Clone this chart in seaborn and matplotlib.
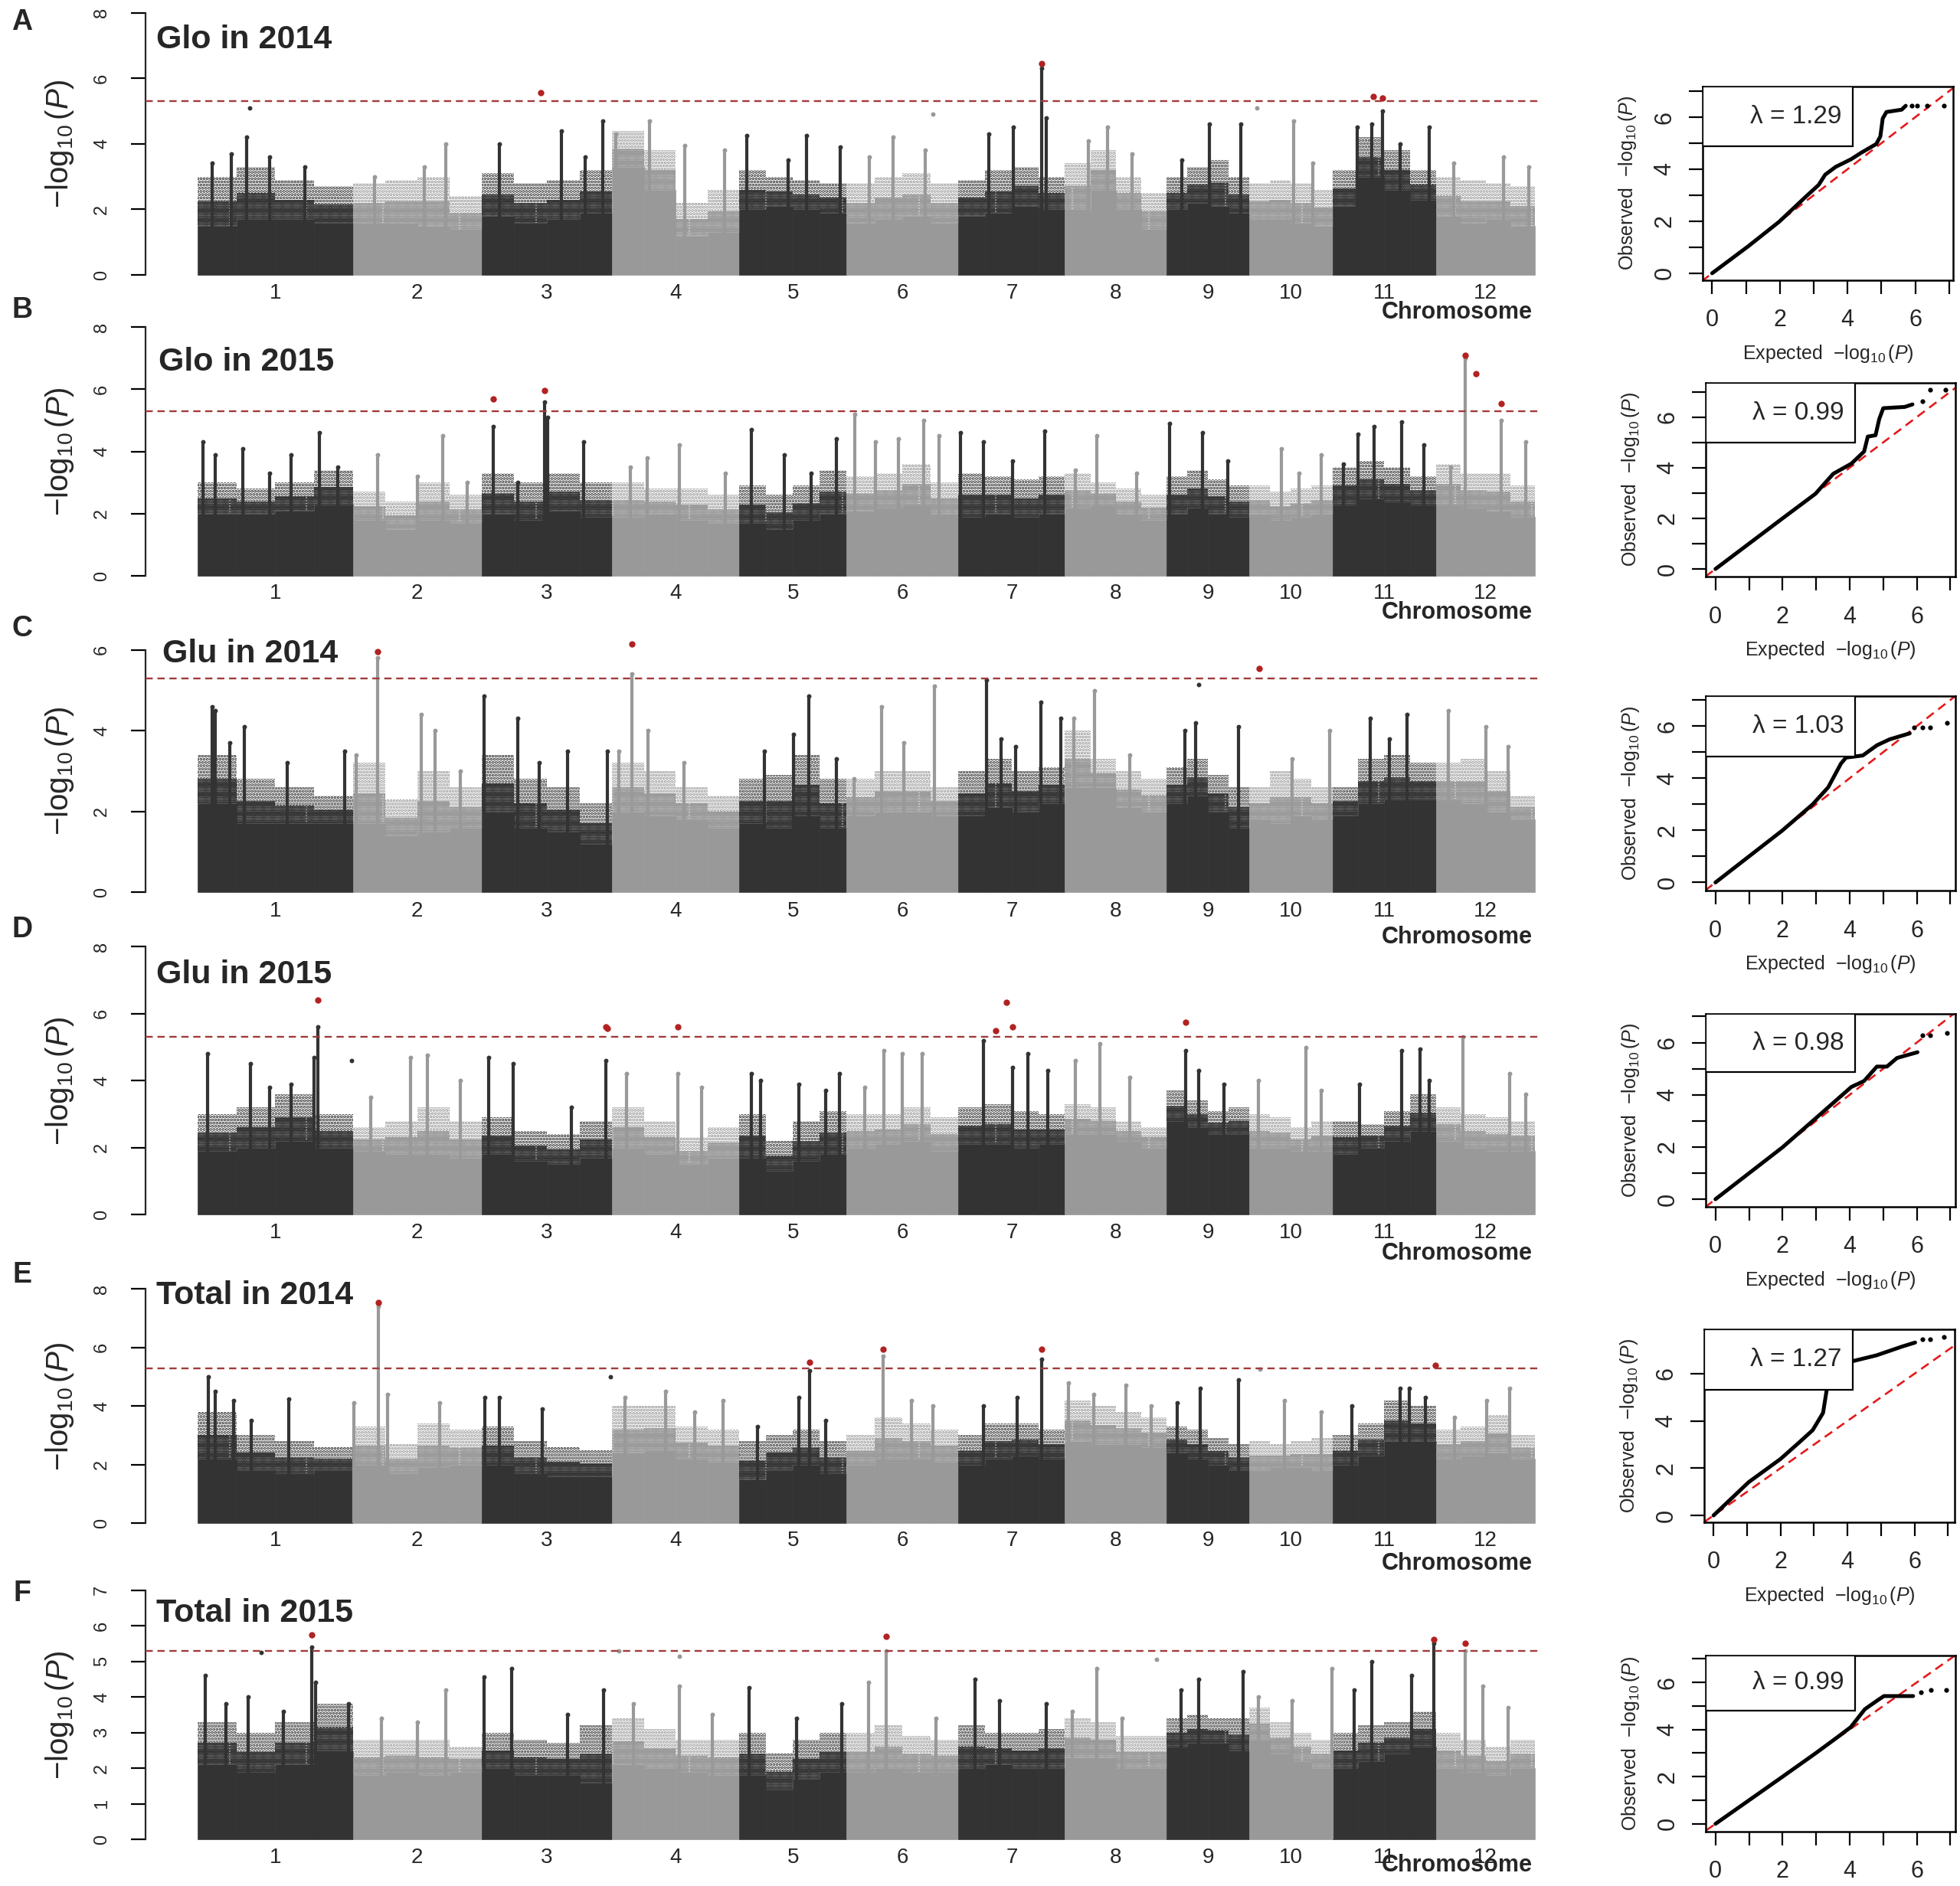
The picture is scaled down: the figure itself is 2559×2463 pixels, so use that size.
import matplotlib
matplotlib.use('Agg')  # headless

import matplotlib.pyplot as plt
from matplotlib.patches import Rectangle
import numpy as np
import pandas as pd
import seaborn as sns

W, H = 2559, 2463

# ---- shared genome info ----
CHROMS = ['1', '2', '3', '4', '5', '6', '7', '8', '9', '10', '11', '12']
CHR_LEN = [43.3, 35.9, 36.4, 35.5, 29.9, 31.2, 29.7, 28.4, 23.0, 23.2, 29.0, 27.5]
THRESH = 5.3
DARK, LIGHT, HIT = '#333333', '#999999', '#B22222'

# ---- A: Glo in 2014 ----
# dense body / loose cloud top, 4 bins per chromosome (-log10 P)
A_BODY = [[1.5, 1.7, 1.7, 1.6], [1.6, 1.6, 1.5, 1.4], [1.8, 1.6, 1.7, 1.9], [3.3, 2.6, 1.2, 1.3],
          [2.0, 2.1, 2.0, 1.9], [1.6, 1.7, 1.8, 1.6], [1.8, 1.9, 2.1, 2.0], [2.0, 2.6, 2.0, 1.4],
          [2.0, 2.2, 2.1, 1.9], [1.7, 1.7, 1.6, 1.5], [2.1, 3.0, 2.6, 2.3], [1.8, 1.6, 1.7, 1.5]]
A_CLOUD = [[3.0, 3.3, 2.9, 2.7], [2.8, 2.9, 3.0, 2.4], [3.1, 2.8, 2.9, 3.2], [4.4, 3.8, 2.2, 2.6],
           [3.2, 3.0, 2.9, 2.8], [2.8, 3.0, 3.1, 2.8], [2.9, 3.2, 3.3, 3.0], [3.4, 3.8, 3.0, 2.5],
           [3.0, 3.3, 3.5, 3.0], [2.8, 2.9, 2.8, 2.6], [3.2, 4.2, 3.8, 3.2], [3.0, 2.9, 2.8, 2.7]]
# (chromosome, position Mb, top of SNP column)
A_COLS = [(1, 13.6, 4.2), (1, 9.4, 3.7), (1, 20.0, 3.6), (1, 4.0, 3.4), (1, 30.0, 3.3),
          (2, 26.0, 4.0), (2, 6.0, 3.0), (2, 20.0, 3.3),
          (3, 4.9, 4.0), (3, 22.3, 4.4), (3, 33.8, 4.7), (3, 29.0, 3.6),
          (4, 1.0, 4.3), (4, 10.5, 4.7), (4, 20.2, 3.95), (4, 31.4, 3.8),
          (5, 2.0, 4.25), (5, 18.8, 4.25), (5, 28.2, 3.9), (5, 13.6, 3.5),
          (6, 12.9, 4.2), (6, 22.0, 3.8), (6, 6.3, 3.6),
          (7, 23.3, 6.3), (7, 8.4, 4.3), (7, 15.3, 4.5), (7, 24.4, 4.8),
          (8, 11.8, 4.5), (8, 6.6, 4.1), (8, 18.8, 3.7),
          (9, 11.8, 4.6), (9, 20.6, 4.6), (9, 4.2, 3.5),
          (10, 12.5, 4.7), (10, 17.8, 3.4),
          (11, 13.9, 5.0), (11, 7.0, 4.5), (11, 19.0, 4.0), (11, 27.0, 4.5), (11, 11.0, 4.6),
          (12, 4.9, 3.4), (12, 18.8, 3.6), (12, 25.8, 3.3)]
# isolated SNPs (chromosome, position Mb, -log10 P)
A_DOTS = [(1, 14.6, 5.1), (3, 16.4, 5.55), (6, 24.0, 4.9), (7, 23.3, 6.45), (10, 2.1, 5.1),
          (11, 11.5, 5.45), (11, 13.9, 5.4)]
A_QQ_EXP = [0, 1.08, 1.98, 2.74, 3.15, 3.34, 3.65, 4.1, 4.4, 4.85, 4.97, 5.04, 5.15, 5.6, 5.72]
A_QQ_OBS = [0, 1.05, 1.98, 2.91, 3.4, 3.79, 4.09, 4.38, 4.63, 4.97, 5.26, 5.95, 6.2, 6.29, 6.44]
A_TAIL_EXP = [5.9, 6.06, 6.36, 6.85]
A_TAIL_OBS = [6.44, 6.44, 6.44, 6.45]
A_LAMBDA = '1.29'

# ---- B: Glo in 2015 ----
B_BODY = [[2.0, 2.0, 2.1, 2.3], [1.8, 1.5, 1.8, 1.7], [2.0, 1.8, 2.1, 1.9], [1.9, 2.0, 1.8, 1.7],
          [1.7, 1.5, 1.8, 2.0], [2.1, 2.2, 2.3, 2.0], [1.9, 2.0, 1.9, 2.0], [2.2, 2.3, 2.0, 1.8],
          [2.0, 2.2, 2.0, 1.9], [2.0, 1.8, 1.9, 2.0], [2.3, 2.5, 2.4, 2.3], [2.3, 2.2, 2.1, 1.9]]
B_CLOUD = [[3.0, 2.8, 3.0, 3.4], [2.7, 2.4, 3.0, 2.6], [3.3, 3.0, 3.3, 3.0], [3.0, 2.8, 2.8, 2.6],
           [2.9, 2.6, 2.9, 3.4], [3.2, 3.3, 3.6, 3.0], [3.3, 3.2, 3.1, 3.2], [3.3, 3.0, 2.8, 2.6],
           [3.2, 3.4, 3.1, 2.9], [2.9, 2.7, 2.8, 2.9], [3.5, 3.7, 3.5, 3.2], [3.6, 3.3, 3.3, 2.9]]
B_COLS = [(1, 1.4, 4.3), (1, 5.0, 3.9), (1, 12.5, 4.1), (1, 26.0, 3.9), (1, 34.0, 4.6), (1, 39.0, 3.5), (1, 20.0, 3.3),
          (2, 7.0, 3.9), (2, 25.0, 4.5), (2, 18.0, 3.2), (2, 32.0, 3.0),
          (3, 3.3, 4.8), (3, 17.5, 5.6), (3, 18.5, 5.1), (3, 28.5, 4.3), (3, 10.0, 3.0),
          (4, 9.7, 3.8), (4, 18.8, 4.2), (4, 31.5, 3.3), (4, 5.0, 3.5),
          (5, 3.3, 4.7), (5, 12.5, 3.9), (5, 27.0, 4.4), (5, 20.0, 3.3),
          (6, 2.2, 5.2), (6, 14.5, 4.4), (6, 21.6, 5.0), (6, 25.7, 4.5), (6, 8.0, 4.3),
          (7, 0.5, 4.6), (7, 7.0, 4.3), (7, 24.0, 4.65), (7, 15.0, 3.7),
          (8, 9.0, 4.5), (8, 3.0, 3.4), (8, 20.0, 3.3),
          (9, 0.8, 4.9), (9, 10.0, 4.6), (9, 17.0, 3.7),
          (10, 8.9, 4.1), (10, 20.0, 3.9), (10, 14.0, 3.3),
          (11, 7.2, 4.55), (11, 11.6, 4.8), (11, 19.4, 4.95), (11, 25.5, 4.2), (11, 3.0, 3.6),
          (12, 8.0, 7.0), (12, 18.0, 5.0), (12, 25.0, 4.3), (12, 4.0, 3.5)]
B_DOTS = [(3, 3.3, 5.7), (3, 17.5, 5.95), (12, 8.0, 7.1), (12, 11.0, 6.5), (12, 18.0, 5.55)]
B_QQ_EXP = [0, 2, 2.98, 3.51, 4.05, 4.43, 4.54, 4.77, 4.88, 5.0, 5.64, 5.87]
B_QQ_OBS = [0, 2.0, 2.97, 3.76, 4.16, 4.64, 5.23, 5.28, 5.92, 6.35, 6.4, 6.5]
B_TAIL_EXP = [6.17, 6.4, 6.86]
B_TAIL_OBS = [6.63, 7.08, 7.08]
B_LAMBDA = '0.99'

# ---- C: Glu in 2014 ----
C_BODY = [[2.2, 1.7, 1.7, 1.7], [1.7, 1.4, 1.5, 1.6], [2.0, 1.6, 1.5, 1.2], [2.0, 1.9, 1.8, 1.6],
          [1.7, 1.6, 1.9, 1.6], [1.9, 2.0, 2.0, 1.9], [1.9, 2.1, 2.0, 2.2], [2.6, 2.6, 2.1, 2.0],
          [2.2, 2.4, 2.0, 1.6], [1.8, 1.7, 1.9, 1.8], [1.9, 2.2, 2.3, 2.3], [2.3, 2.2, 2.0, 1.8]]
C_CLOUD = [[3.4, 2.8, 2.6, 2.4], [3.2, 2.3, 3.0, 2.6], [3.4, 2.8, 2.6, 2.2], [3.2, 3.0, 2.6, 2.4],
           [2.8, 2.9, 3.4, 2.8], [2.8, 3.0, 3.0, 2.6], [3.0, 3.3, 3.0, 3.1], [4.0, 3.3, 3.0, 2.8],
           [3.1, 3.3, 2.9, 2.6], [2.6, 3.0, 2.8, 2.6], [2.6, 3.3, 3.4, 3.2], [3.2, 3.3, 3.0, 2.4]]
C_COLS = [(1, 4.0, 4.6), (1, 5.0, 4.5), (1, 13.0, 4.1), (1, 9.0, 3.7), (1, 25.0, 3.2), (1, 41.0, 3.5),
          (2, 7.0, 5.8), (2, 19.0, 4.4), (2, 23.0, 4.0), (2, 1.0, 3.4), (2, 30.0, 3.0),
          (3, 0.8, 4.85), (3, 10.0, 4.3), (3, 24.0, 3.5), (3, 16.0, 3.2), (3, 35.0, 3.5),
          (4, 5.5, 5.4), (4, 10.0, 4.0), (4, 2.0, 3.5), (4, 20.0, 3.2),
          (5, 19.4, 4.85), (5, 15.0, 3.9), (5, 7.0, 3.5), (5, 27.0, 3.3),
          (6, 9.7, 4.6), (6, 24.6, 5.1), (6, 16.0, 3.7), (6, 2.0, 2.8),
          (7, 7.8, 5.25), (7, 23.0, 4.7), (7, 28.5, 4.3), (7, 12.0, 3.8), (7, 16.0, 3.6),
          (8, 8.3, 5.0), (8, 2.5, 4.3), (8, 18.0, 3.4),
          (9, 8.0, 4.2), (9, 5.0, 4.0), (9, 20.0, 4.1),
          (10, 22.5, 4.0), (10, 12.0, 3.3),
          (11, 10.5, 4.3), (11, 20.8, 4.4), (11, 16.0, 3.8),
          (12, 3.3, 4.5), (12, 13.8, 4.1), (12, 20.0, 3.6)]
C_DOTS = [(2, 7.0, 5.95), (4, 5.5, 6.15), (10, 2.8, 5.55), (9, 9.0, 5.15)]
C_QQ_EXP = [0, 1.99, 2.9, 3.36, 3.51, 3.74, 3.89, 4.39, 4.81, 5.19, 5.79]
C_QQ_OBS = [0, 1.99, 3.0, 3.65, 4.01, 4.56, 4.79, 4.87, 5.26, 5.49, 5.72]
C_TAIL_EXP = [5.91, 6.17, 6.4, 6.9]
C_TAIL_OBS = [5.96, 5.96, 5.96, 6.11]
C_LAMBDA = '1.03'

# ---- D: Glu in 2015 ----
D_BODY = [[1.9, 2.0, 2.2, 2.0], [1.9, 1.8, 1.8, 1.7], [1.8, 1.6, 1.5, 1.7], [2.0, 1.8, 1.5, 1.7],
          [1.7, 1.3, 1.6, 1.8], [2.0, 2.1, 2.2, 1.9], [2.1, 2.1, 2.0, 2.1], [2.4, 2.4, 2.2, 2.0],
          [2.8, 2.6, 2.4, 2.4], [2.0, 2.0, 1.9, 1.9], [1.8, 2.0, 2.2, 2.5], [2.2, 2.0, 1.9, 1.9]]
D_CLOUD = [[3.0, 3.2, 3.6, 3.0], [2.6, 2.8, 3.2, 2.8], [2.9, 2.5, 2.4, 2.8], [3.2, 2.8, 2.3, 2.6],
           [3.0, 2.2, 2.8, 3.1], [3.0, 3.0, 3.2, 2.9], [3.2, 3.3, 3.1, 3.0], [3.3, 3.2, 2.8, 2.6],
           [3.7, 3.4, 3.1, 3.2], [3.0, 2.9, 2.6, 2.8], [2.8, 2.7, 3.1, 3.6], [3.2, 3.0, 2.9, 2.8]]
D_COLS = [(1, 2.8, 4.8), (1, 14.7, 4.5), (1, 26.0, 3.9), (1, 33.5, 5.6), (1, 32.5, 4.7), (1, 20.0, 3.8),
          (2, 16.0, 4.7), (2, 20.8, 4.75), (2, 30.0, 4.0), (2, 5.0, 3.5),
          (3, 2.0, 4.7), (3, 8.9, 4.5), (3, 34.6, 4.6), (3, 25.0, 3.2),
          (4, 4.0, 4.2), (4, 18.3, 4.2), (4, 25.0, 3.8),
          (5, 3.3, 4.2), (5, 6.0, 4.0), (5, 16.6, 3.9), (5, 28.0, 4.2), (5, 24.0, 3.7),
          (6, 10.5, 4.9), (6, 15.5, 4.8), (6, 21.0, 4.8), (6, 5.0, 3.8),
          (7, 6.9, 5.2), (7, 19.4, 4.8), (7, 25.0, 4.3), (7, 15.0, 4.4),
          (8, 9.7, 5.1), (8, 3.0, 4.6), (8, 18.0, 4.1),
          (9, 5.3, 4.9), (9, 9.0, 4.3), (9, 16.0, 3.9),
          (10, 15.8, 5.0), (10, 2.5, 4.0), (10, 20.0, 3.7),
          (11, 7.5, 3.9), (11, 19.4, 4.9), (11, 24.4, 4.95), (11, 27.0, 4.0),
          (12, 7.5, 5.3), (12, 20.5, 4.2), (12, 25.0, 3.6)]
D_DOTS = [(1, 33.5, 6.4), (1, 43.0, 4.6), (3, 34.6, 5.6), (3, 35.0, 5.55), (4, 18.3, 5.6),
          (7, 10.5, 5.5), (7, 13.3, 6.35), (7, 15.2, 5.6), (9, 5.3, 5.75)]
D_QQ_EXP = [0, 2, 2.98, 4.05, 4.43, 4.81, 5.11, 5.41, 6.02]
D_QQ_OBS = [0, 1.99, 3.09, 4.3, 4.53, 5.08, 5.08, 5.41, 5.63]
D_TAIL_EXP = [6.17, 6.4, 6.9]
D_TAIL_OBS = [6.29, 6.29, 6.36]
D_LAMBDA = '0.98'

# ---- E: Total in 2014 ----
E_BODY = [[2.2, 1.8, 1.7, 1.8], [2.0, 1.7, 1.9, 2.0], [2.0, 1.7, 1.6, 1.6], [2.4, 2.5, 2.2, 2.1],
          [1.5, 1.8, 2.0, 1.7], [2.0, 2.2, 2.2, 2.1], [2.0, 2.2, 2.3, 2.2], [2.8, 2.7, 2.7, 2.6],
          [2.4, 2.2, 2.0, 1.8], [1.8, 1.9, 1.9, 1.8], [2.0, 2.3, 2.8, 2.8], [2.2, 2.3, 2.4, 2.2]]
E_CLOUD = [[3.8, 3.0, 2.8, 2.6], [3.3, 2.7, 3.4, 3.2], [3.3, 2.8, 2.6, 2.5], [4.0, 4.0, 3.3, 3.2],
           [2.8, 3.0, 3.2, 2.8], [3.0, 3.6, 3.4, 3.2], [3.0, 3.4, 3.4, 3.2], [4.2, 4.0, 3.8, 3.6],
           [3.3, 3.2, 2.9, 2.7], [2.8, 2.7, 2.8, 2.9], [3.0, 3.4, 4.2, 4.0], [3.2, 3.3, 3.7, 3.0]]
E_COLS = [(1, 3.0, 5.0), (1, 5.0, 4.5), (1, 10.0, 4.2), (1, 25.5, 4.25), (1, 15.0, 3.5),
          (2, 7.2, 7.4), (2, 9.7, 4.4), (2, 0.3, 4.1), (2, 24.3, 4.1),
          (3, 1.0, 4.3), (3, 5.0, 4.3), (3, 17.0, 3.9),
          (4, 3.5, 4.3), (4, 15.0, 4.5), (4, 31.0, 4.2), (4, 23.0, 3.8),
          (5, 19.6, 5.2), (5, 16.6, 4.3), (5, 24.0, 3.5), (5, 5.0, 3.3),
          (6, 10.2, 5.7), (6, 18.0, 4.2), (6, 24.0, 4.0),
          (7, 23.2, 5.6), (7, 16.3, 4.3), (7, 7.0, 4.0),
          (8, 1.0, 4.8), (8, 17.0, 4.7), (8, 8.0, 4.4), (8, 24.0, 4.0),
          (9, 9.4, 4.6), (9, 20.0, 4.9), (9, 3.0, 4.1),
          (10, 9.8, 4.2), (10, 20.0, 3.8),
          (11, 5.5, 4.0), (11, 19.0, 4.6), (11, 21.5, 4.6), (11, 26.0, 4.3),
          (12, 20.5, 4.6), (12, 14.0, 4.2), (12, 5.0, 3.6)]
E_DOTS = [(2, 7.2, 7.55), (3, 36.0, 5.0), (5, 19.6, 5.5), (6, 10.2, 5.95), (7, 23.2, 5.95),
          (10, 3.0, 5.25), (11, 28.8, 5.4)]
E_QQ_EXP = [0, 1.05, 2, 2.58, 2.96, 3.27, 3.38, 3.45, 4.18, 4.87, 5.63, 6.02]
E_QQ_OBS = [0, 1.41, 2.39, 3.12, 3.61, 4.34, 5.32, 6.4, 6.54, 6.78, 7.15, 7.32]
E_TAIL_EXP = [6.24, 6.47, 6.89]
E_TAIL_OBS = [7.46, 7.46, 7.56]
E_LAMBDA = '1.27'

# ---- F: Total in 2015 ----
F_BODY = [[2.1, 1.9, 2.1, 2.5], [1.8, 1.9, 1.8, 1.9], [2.0, 1.8, 1.8, 1.6], [2.1, 2.0, 1.9, 1.8],
          [1.8, 1.4, 1.7, 1.9], [1.9, 2.0, 1.9, 1.9], [2.0, 2.1, 2.0, 2.0], [2.3, 2.3, 2.0, 2.0],
          [2.6, 2.7, 2.7, 2.5], [2.8, 2.4, 2.2, 2.0], [2.0, 2.2, 2.4, 2.6], [2.0, 1.9, 1.8, 2.0]]
F_CLOUD = [[3.3, 3.0, 3.3, 3.8], [2.8, 2.8, 2.8, 2.6], [3.0, 2.8, 2.7, 3.2], [3.4, 3.1, 2.8, 2.8],
           [3.0, 2.4, 2.8, 3.0], [3.0, 3.2, 2.9, 2.8], [3.2, 3.0, 3.0, 3.1], [3.4, 3.3, 2.9, 2.9],
           [3.4, 3.5, 3.4, 3.4], [3.7, 3.3, 3.0, 2.8], [3.0, 3.2, 3.3, 3.6], [3.0, 2.8, 2.6, 2.8]]
F_COLS = [(1, 2.2, 4.6), (1, 8.0, 3.8), (1, 14.0, 4.0), (1, 31.8, 5.4), (1, 42.0, 3.8), (1, 24.0, 3.6), (1, 33.0, 4.4),
          (2, 26.0, 4.2), (2, 8.0, 3.4), (2, 18.0, 3.3),
          (3, 0.8, 4.55), (3, 8.3, 4.8), (3, 34.0, 4.2), (3, 24.0, 3.5),
          (4, 18.8, 4.3), (4, 6.0, 3.8), (4, 28.0, 3.5),
          (5, 2.8, 4.25), (5, 28.5, 3.8), (5, 16.0, 3.4),
          (6, 11.0, 5.3), (6, 6.2, 4.4), (6, 25.0, 3.4),
          (7, 4.7, 4.5), (7, 11.5, 3.9), (7, 24.5, 3.8),
          (8, 9.0, 4.8), (8, 2.0, 3.6), (8, 16.0, 3.4),
          (9, 8.9, 4.5), (9, 21.3, 4.7), (9, 4.0, 4.2),
          (10, 23.0, 4.8), (10, 2.5, 4.0), (10, 12.0, 3.9),
          (11, 11.0, 5.0), (11, 22.0, 4.6), (11, 28.3, 5.5), (11, 6.0, 4.2),
          (12, 8.0, 5.3), (12, 13.0, 4.3), (12, 20.0, 3.7)]
F_DOTS = [(1, 17.7, 5.25), (1, 31.8, 5.75), (4, 2.0, 5.3), (4, 18.8, 5.15), (6, 11.0, 5.7),
          (8, 25.5, 5.05), (11, 28.3, 5.62), (12, 8.0, 5.5)]
F_QQ_EXP = [0, 2, 3.0, 3.61, 4.03, 4.45, 4.83, 5.02, 5.89]
F_QQ_OBS = [0, 2, 3.01, 3.65, 4.1, 4.86, 5.24, 5.42, 5.42]
F_TAIL_EXP = [6.12, 6.43, 6.88]
F_TAIL_OBS = [5.57, 5.67, 5.67]
F_LAMBDA = '0.99'

TITLES = ['Glo in 2014', 'Glo in 2015', 'Glu in 2014', 'Glu in 2015', 'Total in 2014', 'Total in 2015']
LETTERS = ['A', 'B', 'C', 'D', 'E', 'F']

# ---- layout (pixels) ----
MAN_LEFT, MAN_RIGHT = 190, 2010
DATA_L, DATA_R = 258, 2004
LAYOUT = [
    dict(zero=359, unit=42.8, top=8.0, ticks=[0, 2, 4, 6, 8], title=(204, 52), letter=29, chrom=408,
         qq=(2223, 113, 2550, 366), qxl=(-0.28, 7.12), qyl=(-0.27, 7.18), qyt=range(8), box=4.87),
    dict(zero=752, unit=40.6, top=8.0, ticks=[0, 2, 4, 6, 8], title=(207, 473), letter=405, chrom=800,
         qq=(2227, 500, 2553, 753), qxl=(-0.29, 7.15), qyl=(-0.30, 7.35), qyt=range(8), box=4.99),
    dict(zero=1165, unit=52.7, top=6.3, ticks=[0, 2, 4, 6], title=(212, 854), letter=821, chrom=1224,
         qq=(2227, 909, 2553, 1163), qxl=(-0.29, 7.15), qyl=(-0.31, 7.15), qyt=range(8), box=4.82),
    dict(zero=1586, unit=43.7, top=8.0, ticks=[0, 2, 4, 6, 8], title=(204, 1273), letter=1214, chrom=1637,
         qq=(2227, 1324, 2553, 1576), qxl=(-0.29, 7.15), qyl=(-0.29, 7.10), qyt=range(8), box=4.86),
    dict(zero=1989, unit=38.2, top=8.0, ticks=[0, 2, 4, 6, 8], title=(204, 1692), letter=1665, chrom=2042,
         qq=(2225, 1736, 2552, 1988), qxl=(-0.28, 7.20), qyl=(-0.29, 7.88), qyt=[0, 2, 4, 6], box=5.32),
    dict(zero=2402, unit=46.5, top=7.0, ticks=[0, 1, 2, 3, 4, 5, 6, 7], title=(204, 2107), letter=2081, chrom=2436,
         qq=(2227, 2162, 2553, 2392), qxl=(-0.29, 7.15), qyl=(-0.33, 7.14), qyt=range(8), box=4.81),
]

sns.set_theme(style='ticks')
plt.rcParams['font.family'] = ['Liberation Sans', 'DejaVu Sans']
plt.rcParams.update({
    'mathtext.fontset': 'custom',
    'mathtext.rm': 'Liberation Sans',
    'mathtext.it': 'Liberation Sans:italic',
    'mathtext.bf': 'Liberation Sans:bold',
    'hatch.linewidth': 2.0,
    'axes.linewidth': 1.6,
})

offsets = np.concatenate([[0.0], np.cumsum(CHR_LEN)[:-1]])
total = float(np.sum(CHR_LEN))
mb_px = (DATA_R - DATA_L) / total
XLIM = (-(DATA_L - MAN_LEFT) / mb_px, total + (MAN_RIGHT - DATA_R) / mb_px)
mids = offsets + np.array(CHR_LEN) / 2


def px_axes(fig, x0, y0, x1, y1):
    return fig.add_axes([x0 / W, 1 - y1 / H, (x1 - x0) / W, (y1 - y0) / H])


def chr_color(c):
    return DARK if c % 2 == 1 else LIGHT


def snp_frame(rows):
    df = pd.DataFrame(rows, columns=['chrom', 'pos', 'h'])
    df['gpos'] = offsets[df['chrom'].values - 1] + df['pos']
    df['color'] = df['chrom'].map(chr_color)
    return df


def draw_manhattan(fig, lay, body, cloud, cols, dots, title, letter):
    ymin = -0.15
    ax = px_axes(fig, MAN_LEFT, lay['zero'] - lay['top'] * lay['unit'],
                 MAN_RIGHT, lay['zero'] - ymin * lay['unit'])
    ax.set_xlim(*XLIM)
    ax.set_ylim(ymin, lay['top'])

    # solid core of the SNP cloud, then a dotted fringe that thins out upwards
    for i, length in enumerate(CHR_LEN):
        c = chr_color(i + 1)
        q = length / 4
        for j in range(4):
            x0 = offsets[i] + j * q
            b, t = body[i][j], cloud[i][j]
            ax.bar(x0, b, width=q, align='edge', color=c, edgecolor=c, linewidth=0.5, zorder=1)
            mid = b + (t - b) * 0.5
            ax.bar(x0, mid - b, bottom=b, width=q, align='edge', facecolor='none',
                   edgecolor=c, linewidth=0, hatch='.........', zorder=1)
            ax.bar(x0, t - mid, bottom=mid, width=q, align='edge', facecolor='none',
                   edgecolor=c, linewidth=0, hatch='....', zorder=1)

    cdf = snp_frame(cols)
    ax.vlines(cdf['gpos'], 0, cdf['h'], colors=cdf['color'], linewidth=3.0, zorder=2)
    for color, grp in cdf.groupby('color'):
        sns.scatterplot(data=grp, x='gpos', y='h', color=color, s=18, linewidth=0, ax=ax, zorder=3)

    ddf = snp_frame(dots)
    ddf.loc[ddf['h'] > THRESH, 'color'] = HIT
    for color, grp in ddf.groupby('color'):
        size = 36 if color == HIT else 18
        sns.scatterplot(data=grp, x='gpos', y='h', color=color, s=size, linewidth=0, ax=ax, zorder=4)

    ax.axhline(THRESH, color='#A13B3B', linestyle=(0, (4, 2.6)), linewidth=1.7, zorder=5)

    sns.despine(ax=ax, bottom=True)
    ax.spines['left'].set_bounds(0, lay['ticks'][-1])
    ax.spines['left'].set_linewidth(1.6)
    ax.set_yticks(lay['ticks'])
    ax.set_yticklabels([str(t) for t in lay['ticks']])
    ax.tick_params(axis='y', length=14, width=1.6, labelsize=17, pad=19, color='black')
    plt.setp(ax.get_yticklabels(), rotation=90, va='center', ha='right')
    ax.set_xticks(mids)
    ax.set_xticklabels(CHROMS)
    ax.tick_params(axis='x', length=0, labelsize=20, pad=3)
    ax.set_xlabel('')
    ax.set_ylabel('')

    fig.text(lay['title'][0] / W, 1 - lay['title'][1] / H, title, fontsize=31,
             fontweight='bold', ha='left', va='center')
    fig.text(29 / W, 1 - lay['letter'] / H, letter, fontsize=27, fontweight='bold',
             ha='center', va='center')
    fig.text(2001 / W, 1 - lay['chrom'] / H, 'Chromosome', fontsize=22, fontweight='bold',
             ha='right', va='center')
    centre = lay['zero'] - lay['ticks'][-1] * lay['unit'] / 2
    fig.text(78 / W, 1 - centre / H, r'$-\log_{10}(P)$', fontsize=29, rotation=90,
             ha='center', va='center')


def draw_qq(fig, lay, exp, obs, tail_x, tail_y, lam):
    x0, y0, x1, y1 = lay['qq']
    ax = px_axes(fig, x0, y0, x1, y1)
    xl, yl = lay['qxl'], lay['qyl']
    ax.set_xlim(*xl)
    ax.set_ylim(*yl)
    ax.plot([-1, 9], [-1, 9], color='#E41A1C', linestyle=(0, (4.5, 2.8)), linewidth=1.9, zorder=2)
    sns.lineplot(x=exp, y=obs, color='black', linewidth=3.6, sort=False, estimator=None,
                 ax=ax, zorder=3)
    sns.scatterplot(x=tail_x, y=tail_y, color='black', s=20, linewidth=0, ax=ax, zorder=3)
    box_r = 4.16
    ax.add_patch(Rectangle((xl[0], lay['box']), box_r - xl[0], yl[1] - lay['box'],
                           facecolor='white', edgecolor='black', linewidth=1.6, zorder=4))
    ax.text(box_r - 0.33, (lay['box'] + yl[1]) / 2, f'λ = {lam}', fontsize=24,
            ha='right', va='center', zorder=5)

    ax.set_xticks(range(8))
    ax.set_xticklabels(['0', '', '2', '', '4', '', '6', ''])
    yt = list(lay['qyt'])
    ax.set_yticks(yt)
    ax.set_yticklabels([str(v) if v % 2 == 0 else '' for v in yt])
    ax.tick_params(axis='both', direction='out', length=13, width=1.6, labelsize=22, color='black')
    ax.tick_params(axis='x', pad=14)
    ax.tick_params(axis='y', pad=12)
    plt.setp(ax.get_yticklabels(), rotation=90, va='center', ha='right')
    for sp in ax.spines.values():
        sp.set_visible(True)
        sp.set_linewidth(1.8)
        sp.set_color('black')
    ax.set_xlabel('')
    ax.set_ylabel('')

    fig.text(((x0 + x1) / 2) / W, 1 - (y1 + 96) / H, r'Expected  $-\log_{10}(P)$',
             fontsize=18, ha='center', va='center')
    fig.text((x0 - 98) / W, 1 - ((y0 + y1) / 2) / H, r'Observed  $-\log_{10}(P)$',
             fontsize=18, rotation=90, ha='center', va='center')


fig = plt.figure(figsize=(W / 100, H / 100), dpi=100)
fig.patch.set_facecolor('white')

panels = [
    (A_BODY, A_CLOUD, A_COLS, A_DOTS, A_QQ_EXP, A_QQ_OBS, A_TAIL_EXP, A_TAIL_OBS, A_LAMBDA),
    (B_BODY, B_CLOUD, B_COLS, B_DOTS, B_QQ_EXP, B_QQ_OBS, B_TAIL_EXP, B_TAIL_OBS, B_LAMBDA),
    (C_BODY, C_CLOUD, C_COLS, C_DOTS, C_QQ_EXP, C_QQ_OBS, C_TAIL_EXP, C_TAIL_OBS, C_LAMBDA),
    (D_BODY, D_CLOUD, D_COLS, D_DOTS, D_QQ_EXP, D_QQ_OBS, D_TAIL_EXP, D_TAIL_OBS, D_LAMBDA),
    (E_BODY, E_CLOUD, E_COLS, E_DOTS, E_QQ_EXP, E_QQ_OBS, E_TAIL_EXP, E_TAIL_OBS, E_LAMBDA),
    (F_BODY, F_CLOUD, F_COLS, F_DOTS, F_QQ_EXP, F_QQ_OBS, F_TAIL_EXP, F_TAIL_OBS, F_LAMBDA),
]

for lay, title, letter, p in zip(LAYOUT, TITLES, LETTERS, panels):
    body, cloud, cols, dots, qx, qy, tx, ty, lam = p
    draw_manhattan(fig, lay, body, cloud, cols, dots, title, letter)
    draw_qq(fig, lay, qx, qy, tx, ty, lam)

fig.savefig('out.png', dpi=100, facecolor='white')
